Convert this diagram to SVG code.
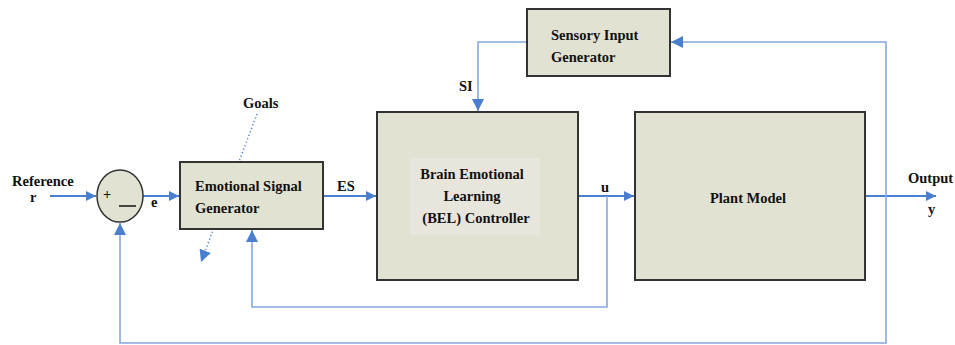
<svg xmlns="http://www.w3.org/2000/svg" width="955" height="345" viewBox="0 0 955 345">
<defs>
<marker id="ah" viewBox="0 0 10 10" refX="10" refY="5" markerWidth="10" markerHeight="10" markerUnits="userSpaceOnUse" orient="auto">
<path d="M0,0 L10,5 L0,10 z" fill="#4a7fd0"/>
</marker>
<marker id="ahs" viewBox="0 0 10 10" refX="10" refY="5" markerWidth="12" markerHeight="12" markerUnits="userSpaceOnUse" orient="auto">
<path d="M0,0 L10,5 L0,10 z" fill="#4a7fd0"/>
</marker>
</defs>
<style>
.box{fill:#e2e2d2;stroke:#333;stroke-width:2}
.t{font-size:14.5px;font-weight:bold;fill:#111}
.m{fill:none;stroke:#4a7fd0;stroke-width:2}
.f{fill:none;stroke:#86a8de;stroke-width:1.6}
</style>
<rect width="955" height="345" fill="#fff"/>
<g id="connectors">
<path class="m" d="M50,196 H96" marker-end="url(#ah)"/>
<path class="m" d="M143,196 H179" marker-end="url(#ah)"/>
<path class="m" d="M323,196 H376" marker-end="url(#ah)"/>
<path class="m" d="M578,196 H634" marker-end="url(#ah)"/>
<path class="m" d="M865,196 H936" marker-end="url(#ah)"/>
<path class="f" d="M607,196 V307 H252 V230" marker-end="url(#ahs)"/>
<path class="f" d="M886,196 V343 H120 V223" marker-end="url(#ahs)"/>
<path class="f" d="M886,196 V42 H671" marker-end="url(#ahs)"/>
<path class="f" d="M527,42 H478 V111" marker-end="url(#ahs)"/>
<path fill="none" stroke="#4a7fd0" stroke-width="1.5" stroke-dasharray="1.2,2.5" d="M257,114 L201,262" marker-end="url(#ahs)"/>
</g>
<g font-family="Liberation Serif, Times New Roman, serif">
<g id="sum">
<ellipse cx="120" cy="196" rx="23" ry="26" fill="#e2e2d2" stroke="#333" stroke-width="1.5"/>
<text class="t" x="103" y="199" font-size="17">+</text>
<line x1="119" y1="206" x2="136" y2="206" stroke="#111" stroke-width="1.5"/>
</g>
<g id="labels">
<text class="t" x="12" y="186">Reference</text>
<text class="t" x="30" y="202">r</text>
<text class="t" x="151" y="207">e</text>
<text class="t" x="337" y="191">ES</text>
<text class="t" x="601" y="192">u</text>
<text class="t" x="459" y="91">SI</text>
<text class="t" x="908" y="183">Output</text>
<text class="t" x="928" y="214">y</text>
<text class="t" x="243" y="108">Goals</text>
</g>
<g id="esg">
<rect class="box" x="180" y="162" width="143" height="67"/>
<text class="t" x="195" y="191">Emotional Signal</text>
<text class="t" x="195" y="213">Generator</text>
</g>
<g id="bel">
<rect class="box" x="377" y="112" width="201" height="168"/>
<rect x="410" y="158" width="130" height="77" fill="#e8e6dc"/>
<text class="t" x="472" y="179" text-anchor="middle">Brain Emotional</text>
<text class="t" x="472" y="201" text-anchor="middle">Learning</text>
<text class="t" x="476" y="223" text-anchor="middle">(BEL) Controller</text>
</g>
<g id="plant">
<rect class="box" x="635" y="112" width="230" height="168"/>
<text class="t" x="748" y="203" text-anchor="middle">Plant Model</text>
</g>
<g id="sig">
<rect class="box" x="527" y="9" width="143" height="67"/>
<text class="t" x="551" y="40">Sensory Input</text>
<text class="t" x="551" y="62">Generator</text>
</g>
</g>
</svg>
